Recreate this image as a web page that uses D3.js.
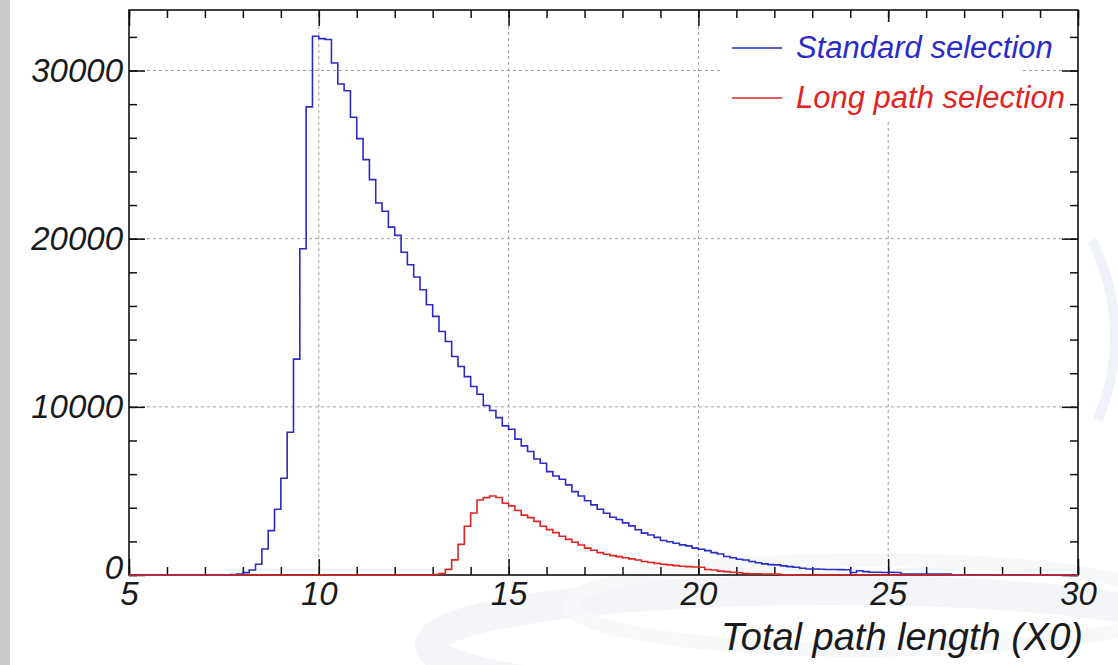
<!DOCTYPE html>
<html>
<head>
<meta charset="utf-8">
<script src="https://cdn.jsdelivr.net/npm/d3@7"></script>
<style>
  body { margin: 0; background: #fff; }
  svg { display: block; }
  text { font-family: "Liberation Sans", Arial, sans-serif; font-style: italic; }
</style>
</head>
<body>
<script>
'use strict';

// histogram binning: 150 bins between 5 and 30 X0
const xMin = 5;
const xMax = 30;
const nBins = 150;

const xMajorTicks = [5, 10, 15, 20, 25, 30];
const xGridTicks = [10, 15, 20, 25];
const yMajorTicks = [0, 10000, 20000, 30000];

const seriesNames = ["Standard selection", "Long path selection"];

// Standard selection: counts from bin 16 onwards (all other bins are empty)
const standardFirstBin = 16;
const standardCounts = [
  30, 60, 140, 300, 640, 1550, 2640, 3910, 5750, 8490,
  12840, 19400, 27840, 32040, 31900, 31850, 30450, 29200, 28800, 27220,
  25950, 24700, 23510, 22120, 21630, 20690, 20200, 19190, 18450, 17720,
  16960, 16070, 15380, 14480, 13890, 12990, 12400, 11800, 11210, 10750,
  10080, 9780, 9360, 8870, 8670, 8080, 7680, 7340, 6900, 6650,
  6150, 5890, 5690, 5360, 4960, 4700, 4420, 4170, 3910, 3670,
  3430, 3300, 3100, 2920, 2690, 2490, 2380, 2240, 2050, 1980,
  1890, 1790, 1730, 1600, 1530, 1450, 1330, 1250, 1100, 1030,
  940, 890, 800, 730, 660, 615, 600, 540, 500, 460,
  400, 360, 355, 340, 330, 330, 320, 310, 150, 250,
  200, 160, 160, 150, 160, 150, 60, 60, 50, 60,
  60, 50, 60, 50
];

// Long path selection: counts from bin 48 onwards
const longFirstBin = 48;
const longCounts = [
  30, 80, 337, 900, 1820, 2900, 3690, 4460, 4600, 4700,
  4610, 4270, 4110, 3840, 3560, 3410, 3190, 2900, 2700, 2520,
  2300, 2120, 1950, 1780, 1600, 1470, 1330, 1230, 1150, 1090,
  1030, 960, 890, 800, 740, 690, 640, 600, 560, 520,
  500, 480, 460, 330, 300, 230, 200, 160, 130, 90,
  70, 70, 60, 60, 50
];

const colors = { standard: "#2b2bc8", long: "#e02424" };

let svgContainer = d3.select("body").append("svg")
  .attr("width", 1118)
  .attr("height", 665);

// function to scale x value
let xScale = d3.scaleLinear().domain([xMin, xMax]).range([129, 1078]);
// function to scale y value
let yScale = d3.scaleLinear().domain([0, 33600]).range([575, 10]);

drawBackground();
drawGrid();
drawAxes();
drawHist(standardFirstBin, standardCounts, colors.standard);
drawHist(longFirstBin, longCounts, colors.long);
drawLegend();
makeLabels();

// expand a partial count list into all bins
function fullBins(first, counts) {
  let out = [];
  for (let i = 0; i < nBins; i++) {
    let v = (i >= first && i < first + counts.length) ? counts[i - first] : 0;
    out.push(v);
  }
  return out;
}

function drawHist(first, counts, color) {
  let binW = (xMax - xMin) / nBins;
  let bins = fullBins(first, counts);
  let pts = [];
  bins.forEach((c, i) => {
    pts.push([xMin + i * binW, c]);
    pts.push([xMin + (i + 1) * binW, c]);
  });
  let line = d3.line()
    .x(d => xScale(d[0]))
    .y(d => yScale(d[1]));
  svgContainer.append("path")
    .attr("d", line(pts))
    .attr("fill", "none")
    .attr("stroke", color)
    .attr("stroke-width", 1.6)
    .attr("stroke-linejoin", "miter");
}

function drawBackground() {
  // grey strip on the left edge
  svgContainer.append("rect")
    .attr("x", 0).attr("y", 0)
    .attr("width", 10).attr("height", 665)
    .attr("fill", "#cbcbcb");

  // faint watermark swooshes
  let wm = svgContainer.append("g").attr("fill", "none");
  wm.append("ellipse")
    .attr("cx", 830).attr("cy", 645).attr("rx", 400).attr("ry", 55)
    .attr("stroke", "#f3f5f8").attr("stroke-width", 30);
  wm.append("ellipse")
    .attr("cx", 870).attr("cy", 605).attr("rx", 300).attr("ry", 45)
    .attr("stroke", "#f6f8fa").attr("stroke-width", 14);
  wm.append("path")
    .attr("d", "M1092,240 Q1135,330 1098,420")
    .attr("stroke", "#eff3f9").attr("stroke-width", 10);
}

function drawGrid() {
  let g = svgContainer.append("g")
    .attr("stroke", "#a0a0a0")
    .attr("stroke-width", 1)
    .attr("stroke-dasharray", "3,3");
  g.selectAll(".vgrid")
    .data(xGridTicks)
    .enter().append("line")
    .attr("x1", d => xScale(d)).attr("x2", d => xScale(d))
    .attr("y1", yScale.range()[0]).attr("y2", yScale.range()[1]);
  g.selectAll(".hgrid")
    .data(yMajorTicks.filter(d => d > 0))
    .enter().append("line")
    .attr("y1", d => yScale(d)).attr("y2", d => yScale(d))
    .attr("x1", xScale.range()[0]).attr("x2", xScale.range()[1]);
}

// draw the frame, ticks and tick labels
function drawAxes() {
  let xMinor = d3.range(xMin, xMax + 1, 1);
  let yMinor = d3.range(0, 33600, 2000);

  let bottom = yScale.range()[0];
  let top = yScale.range()[1];
  let left = xScale.range()[0];
  let right = xScale.range()[1];

  svgContainer.append("g").attr("class", "minor")
    .attr("transform", `translate(0, ${bottom})`)
    .call(d3.axisBottom(xScale).tickValues(xMinor).tickSize(-8).tickFormat(""));
  svgContainer.append("g").attr("class", "minor")
    .attr("transform", `translate(0, ${top})`)
    .call(d3.axisTop(xScale).tickValues(xMinor).tickSize(-8).tickFormat(""));
  svgContainer.append("g").attr("class", "minor")
    .attr("transform", `translate(${left}, 0)`)
    .call(d3.axisLeft(yScale).tickValues(yMinor).tickSize(-8).tickFormat(""));
  svgContainer.append("g").attr("class", "minor")
    .attr("transform", `translate(${right}, 0)`)
    .call(d3.axisRight(yScale).tickValues(yMinor).tickSize(-8).tickFormat(""));

  svgContainer.append("g").attr("class", "major xaxis")
    .attr("transform", `translate(0, ${bottom})`)
    .call(d3.axisBottom(xScale).tickValues(xMajorTicks).tickSize(-16).tickPadding(7)
      .tickFormat(d3.format("d")));
  svgContainer.append("g").attr("class", "major")
    .attr("transform", `translate(0, ${top})`)
    .call(d3.axisTop(xScale).tickValues(xMajorTicks).tickSize(-16).tickFormat(""));
  svgContainer.append("g").attr("class", "major yaxis")
    .attr("transform", `translate(${left}, 0)`)
    .call(d3.axisLeft(yScale).tickValues(yMajorTicks).tickSize(-16).tickPadding(6)
      .tickFormat(d3.format("d")));
  svgContainer.append("g").attr("class", "major")
    .attr("transform", `translate(${right}, 0)`)
    .call(d3.axisRight(yScale).tickValues(yMajorTicks).tickSize(-16).tickFormat(""));

  svgContainer.selectAll(".minor path, .major path").remove();
  svgContainer.selectAll(".minor line, .major line")
    .attr("stroke", "#111").attr("stroke-width", 1.5);

  svgContainer.selectAll(".xaxis text, .yaxis text")
    .attr("fill", "#1a1a1a")
    .style("font-size", "33px")
    .style("font-family", "'Liberation Sans', Arial, sans-serif")
    .style("font-style", "italic");
  // ROOT style: the y "0" sits slightly above the axis corner
  svgContainer.selectAll(".yaxis .tick text")
    .filter(d => d === 0)
    .attr("dy", "0.1em");

  // frame
  svgContainer.append("rect")
    .attr("x", left).attr("y", top)
    .attr("width", right - left).attr("height", bottom - top)
    .attr("fill", "none")
    .attr("stroke", "#111")
    .attr("stroke-width", 1.6);
}

function drawLegend() {
  let lg = svgContainer.append("g");
  lg.append("rect")
    .attr("x", 722).attr("y", 22)
    .attr("width", 298).attr("height", 98)
    .attr("fill", "#fff");
  let rows = [
    { name: seriesNames[0], color: colors.standard },
    { name: seriesNames[1], color: colors.long }
  ];
  lg.selectAll(".legline")
    .data(rows)
    .enter().append("line")
    .attr("x1", 732).attr("x2", 782)
    .attr("y1", (d, i) => 48 + i * 50)
    .attr("y2", (d, i) => 48 + i * 50)
    .attr("stroke", d => d.color)
    .attr("stroke-width", 1.6);
  lg.selectAll(".legtext")
    .data(rows)
    .enter().append("text")
    .attr("x", 796)
    .attr("y", (d, i) => 58 + i * 50)
    .attr("fill", d => d.color)
    .style("font-size", "31px")
    .text(d => d.name);
}

// axis title
function makeLabels() {
  svgContainer.append("text")
    .attr("x", 1083)
    .attr("y", 650)
    .attr("text-anchor", "end")
    .attr("fill", "#1a1a1a")
    .style("font-size", "38px")
    .text("Total path length (X0)");
}
</script>
</body>
</html>
